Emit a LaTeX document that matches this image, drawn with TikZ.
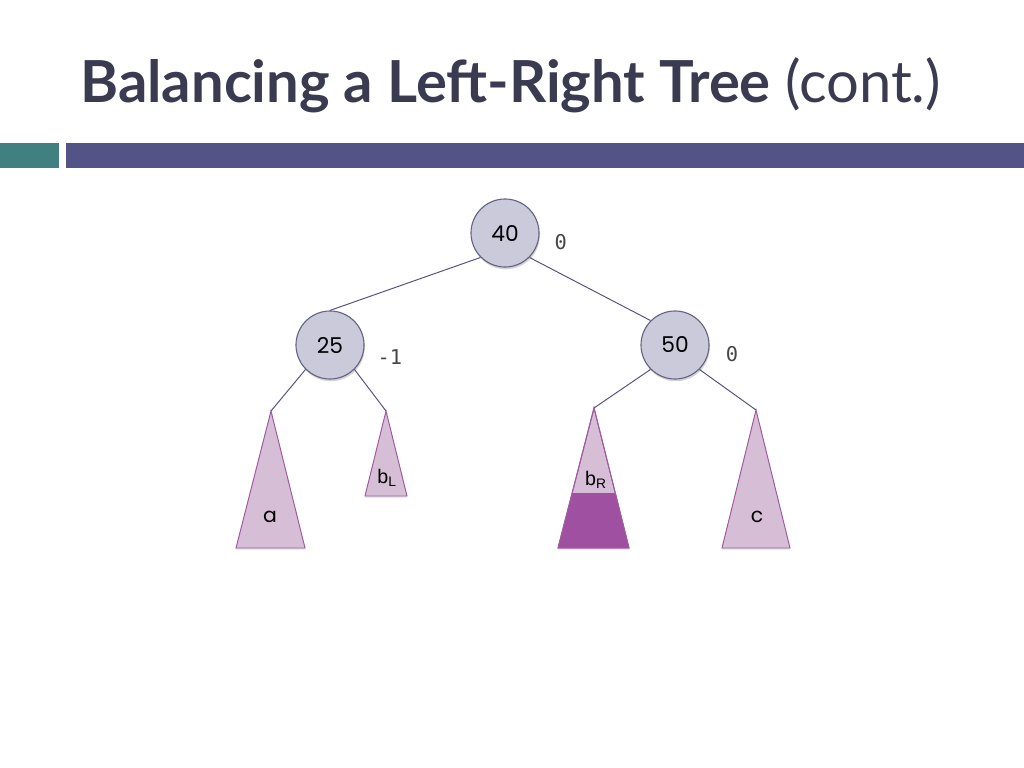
\documentclass[tikz,border=0pt]{standalone}
\usepackage{fontspec}
\setmainfont{Lato}
\newfontfamily\keyfont{Poppins}
\newfontfamily\subfont{Liberation Sans}
\newfontfamily\balfont{DejaVu Sans Mono}
\usetikzlibrary{positioning,shadows}

\definecolor{barteal}{RGB}{64,128,128}
\definecolor{barpurple}{RGB}{83,83,135}
\definecolor{titlegrey}{RGB}{58,58,80}
\definecolor{keyfill}{RGB}{202,202,218}
\definecolor{keyline}{RGB}{100,100,135}
\definecolor{edgeline}{RGB}{90,80,130}
\definecolor{subfill}{RGB}{214,190,214}
\definecolor{subline}{RGB}{160,90,160}
\definecolor{subdark}{RGB}{160,80,160}
\definecolor{balgrey}{RGB}{70,70,70}

\tikzset{
  keynode/.style={circle,draw=keyline,fill=keyfill,line width=0.8pt,
    minimum size=1.7cm,inner sep=0pt,font=\keyfont\fontsize{15.5}{18}\selectfont,
    drop shadow={shadow xshift=0.6pt,shadow yshift=-1.6pt,opacity=0.35}},
  balance/.style={font=\balfont\fontsize{14.5}{17}\selectfont,text=balgrey},
  tree/.style={draw=subline,fill=subfill,line width=0.7pt,line join=miter,
    drop shadow={shadow xshift=0pt,shadow yshift=-1.2pt,opacity=0.25}},
  treelabel/.style={font=\keyfont\fontsize{14.5}{16}\selectfont},
  sublabel/.style={font=\subfont\fontsize{14}{16}\selectfont},
  link/.style={draw=edgeline,line width=0.7pt}
}

\begin{document}
\begin{tikzpicture}[x=0.025cm,y=-0.025cm]
\useasboundingbox (0,0) rectangle (1024,768);

% title and the two bars under it
\node[anchor=base west,inner sep=0pt,text=titlegrey,
  font=\fontsize{41.2}{50}\selectfont] (title) at (80,103)
  {\textbf{Balancing a Left-Right Tree} (cont.)};
\fill[barteal] (0,143) rectangle (59,168);
\fill[barpurple] (66,143) rectangle (1024,168);

% keys
\node[keynode] (n40) at (505,233) {40};
\node[keynode] (n25) at (330,345) {25};
\node[keynode] (n50) at (675,345) {50};

% balances
\node[balance,right=0.25cm of n40,yshift=-0.22cm] (b40) {0};
\node[balance,right=0.2cm of n25,yshift=-0.3cm] (b25) {-1};
\node[balance,right=0.28cm of n50,yshift=-0.22cm] (b50) {0};

% apexes of the subtrees
\coordinate (ta) at (271,411);
\coordinate (tbl) at (386,411);
\coordinate (tbr) at (594,408);
\coordinate (tc) at (756,410);

% subtrees
\path[tree] (ta) -- (305,548) -- (236,548) -- cycle;
\path[tree] (tbl) -- (407,496) -- (365,496) -- cycle;
\path[tree] (tbr) -- (629,548) -- (558,548) -- cycle;
\fill[subdark] (572.4,493) -- (615.6,493) -- (629,548) -- (558,548) -- cycle;
\draw[subline,line width=0.7pt] (tbr) -- (629,548) -- (558,548) -- cycle;
\path[tree] (tc) -- (790,548) -- (722,548) -- cycle;

\node[treelabel] (la) at (270,517) {a};
\node[sublabel] (lbl) at (387,478) {b\textsubscript{L}};
\node[sublabel] (lbr) at (596,480) {b\textsubscript{R}};
\node[treelabel] (lc) at (757,517) {c};

% links
\path[link] (n40.south west) -- (n25.north);
\path[link] (n40.south east) -- (n50.north west);
\path[link] (n25.south west) -- (ta);
\path[link] (n25.south east) -- (tbl);
\path[link] (n50.south west) -- (tbr);
\path[link] (n50.south east) -- (tc);

\end{tikzpicture}
\end{document}
